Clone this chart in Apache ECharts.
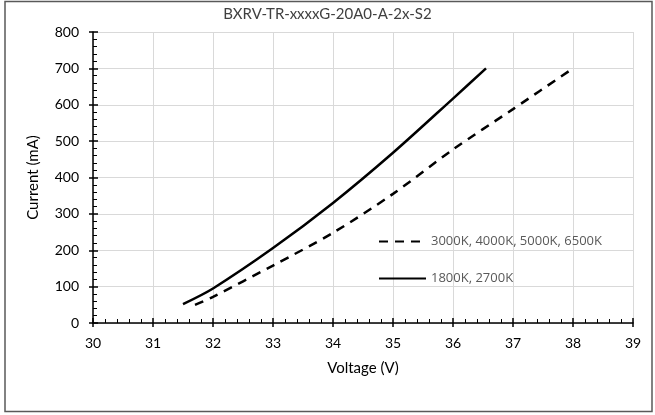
<!DOCTYPE html>
<html>
<head>
<meta charset="utf-8">
<script src="https://cdn.jsdelivr.net/npm/echarts@6/dist/echarts.min.js"></script>
<style>html,body{margin:0;padding:0;background:#fff}#c{width:655px;height:415px}</style>
</head>
<body>
<div id="c"></div>
<script>
const titleText = 'BXRV-TR-xxxxG-20A0-A-2x-S2';
const xName = 'Voltage (V)';
const yName = 'Current (mA)';
const seriesNames = ['3000K, 4000K, 5000K, 6500K', '1800K, 2700K'];
const dashedVoltage = [31.7, 32, 33, 34, 35, 36, 37, 38];
const dashedCurrent = [50, 72, 158, 248, 355, 477, 588, 700];
const solidVoltage = [31.5, 32, 33, 34, 35, 36, 36.55];
const solidCurrent = [52, 95, 206, 330, 468, 617, 700];
const xMin = 30, xMax = 39, xStep = 1;
const yMin = 0, yMax = 800, yStep = 100;

const pair = (xs, ys) => xs.map((x, i) => [x, ys[i]]);
const font = 'Lato, "Noto Sans", sans-serif';
const chart = echarts.init(document.getElementById('c'), null, {renderer: 'canvas'});
const baseX = {
  type: 'value', min: xMin, max: xMax, interval: xStep, gridIndex: 0
};
const baseY = {
  type: 'value', min: yMin, max: yMax, interval: yStep, gridIndex: 0
};
chart.setOption({
  animation: false,
  backgroundColor: '#fff',
  graphic: [{
    type: 'rect', shape: {x: 5, y: 1.5, width: 647, height: 410},
    style: {fill: 'none', stroke: '#595959', lineWidth: 1.5}, silent: true
  }],
  title: {
    text: titleText, left: 'center', top: 2,
    textStyle: {fontFamily: font, fontSize: 15, fontWeight: 'normal', color: '#404040'}
  },
  grid: {left: 93, right: 22, top: 32, bottom: 92, containLabel: false},
  legend: {
    orient: 'vertical', left: 373, top: 230, itemWidth: 47, itemHeight: 14, itemGap: 24,
    data: seriesNames,
    itemStyle: {opacity: 0},
    textStyle: {fontFamily: '"Open Sans", sans-serif', fontSize: 13, color: '#595959'}
  },
  xAxis: [
    Object.assign({}, baseX, {
      name: xName, nameLocation: 'middle', nameGap: 38,
      nameTextStyle: {fontFamily: font, fontSize: 15, color: '#000'},
      axisLine: {show: true, onZero: false, lineStyle: {color: '#000', width: 1.5}},
      axisTick: {show: true, inside: true, length: 5, lineStyle: {color: '#000', width: 1.5}},
      minorTick: {show: true, splitNumber: 5, length: 4, lineStyle: {color: '#000', width: 1}},
      axisLabel: {fontFamily: font, fontSize: 14, color: '#000', margin: 13},
      splitLine: {show: true, lineStyle: {color: '#d9d9d9', width: 1}}
    }),
    Object.assign({}, baseX, {
      position: 'bottom',
      axisLine: {show: false},
      axisTick: {show: true, inside: false, length: 4, lineStyle: {color: '#000', width: 1.5}},
      axisLabel: {show: false}, splitLine: {show: false}
    })
  ],
  yAxis: [
    Object.assign({}, baseY, {
      name: yName, nameLocation: 'middle', nameGap: 52, nameRotate: 90,
      nameTextStyle: {fontFamily: font, fontSize: 15, color: '#000'},
      axisLine: {show: true, onZero: false, lineStyle: {color: '#000', width: 1.5}},
      axisTick: {show: true, inside: true, length: 5, lineStyle: {color: '#000', width: 1.5}},
      minorTick: {show: true, splitNumber: 5, length: 4, lineStyle: {color: '#000', width: 1}},
      axisLabel: {fontFamily: font, fontSize: 14, color: '#000', margin: 14},
      splitLine: {show: true, lineStyle: {color: '#d9d9d9', width: 1}}
    }),
    Object.assign({}, baseY, {
      position: 'left',
      axisLine: {show: false},
      axisTick: {show: true, inside: false, length: 4, lineStyle: {color: '#000', width: 1.5}},
      axisLabel: {show: false}, splitLine: {show: false}
    })
  ],
  series: [
    {
      name: seriesNames[0], type: 'line', xAxisIndex: 0, yAxisIndex: 0,
      data: pair(dashedVoltage, dashedCurrent), smooth: 0.3, symbol: 'none', showSymbol: false,
      lineStyle: {color: '#000', width: 2.5, type: [9, 7]}, itemStyle: {color: '#000'}
    },
    {
      name: seriesNames[1], type: 'line', xAxisIndex: 0, yAxisIndex: 0,
      data: pair(solidVoltage, solidCurrent), smooth: 0.3, symbol: 'none', showSymbol: false,
      lineStyle: {color: '#000', width: 2.5, type: 'solid'}, itemStyle: {color: '#000'}
    }
  ]
});
</script>
</body>
</html>
